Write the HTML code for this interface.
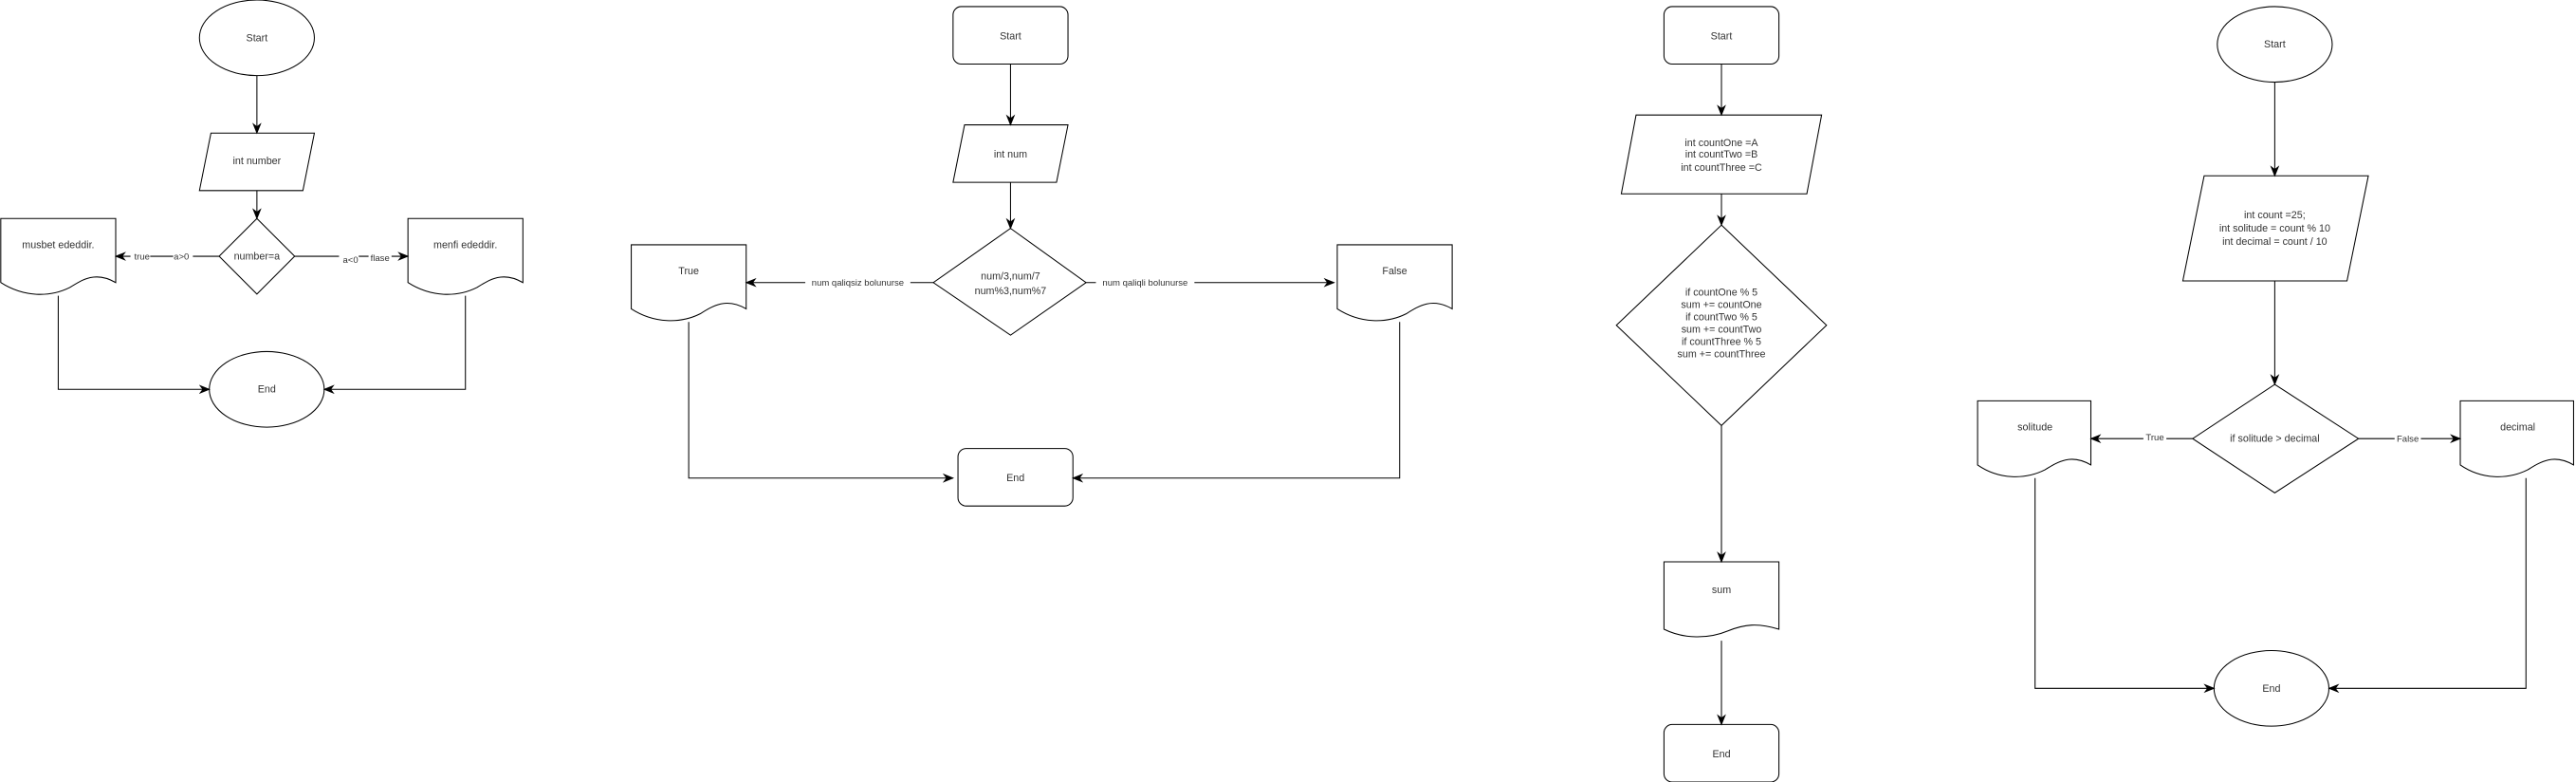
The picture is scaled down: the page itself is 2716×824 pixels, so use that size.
<!DOCTYPE html>
<html><head><meta charset="utf-8"><style>html,body{margin:0;padding:0;background:#fff}svg{display:block}</style></head>
<body>
<svg width="2716" height="824" viewBox="0 0 1568 476" xmlns="http://www.w3.org/2000/svg" font-family="Liberation Sans, Arial, sans-serif" font-size="6.2" fill="none" stroke="#000" stroke-width="0.6">
<defs>
<marker id="a" viewBox="0 0 10 10" refX="9" refY="5" markerWidth="7" markerHeight="7" orient="auto" markerUnits="userSpaceOnUse"><path d="M0,1 L10,5 L0,9 L3,5 Z" fill="#000" stroke="none"/></marker>
</defs>
<!-- D1 -->
<ellipse cx="156" cy="23" rx="35" ry="23" fill="#fff"/>
<path d="M128 81 H191 L184 116 H121 Z" fill="#fff"/>
<path d="M156 133 L179 156 L156 179 L133 156 Z" fill="#fff"/>
<path d="M0 133 H70 V172 C58 165 50 170 42 175 C30 181 14 181 0 172 Z" fill="#fff"/>
<path d="M248 133 H318 V172 C306 165 298 170 290 175 C278 181 262 181 248 172 Z" fill="#fff"/>
<ellipse cx="162" cy="237" rx="35" ry="23" fill="#fff"/>
<line x1="156" y1="46" x2="156" y2="81" marker-end="url(#a)"/>
<line x1="156" y1="116" x2="156" y2="133" marker-end="url(#a)"/>
<line x1="133" y1="156" x2="70" y2="156" marker-end="url(#a)"/>
<line x1="179" y1="156" x2="248" y2="156" marker-end="url(#a)"/>
<polyline points="35,180 35,237 127,237" marker-end="url(#a)"/>
<polyline points="283,180 283,237 197,237" marker-end="url(#a)"/>
<!-- D2 -->
<rect x="580" y="4" width="70" height="35" rx="5" fill="#fff"/>
<path d="M587 76 H650 L643 111 H580 Z" fill="#fff"/>
<path d="M615 139 L661 172 L615 204 L568 172 Z" fill="#fff"/>
<path d="M384 149 H454 V188 C442 181 434 186 426 191 C414 197 398 197 384 188 Z" fill="#fff"/>
<path d="M814 149 H884 V188 C872 181 864 186 856 191 C844 197 828 197 814 188 Z" fill="#fff"/>
<rect x="583" y="273" width="70" height="35" rx="5" fill="#fff"/>
<line x1="615" y1="39" x2="615" y2="76" marker-end="url(#a)"/>
<line x1="615" y1="111" x2="615" y2="139" marker-end="url(#a)"/>
<line x1="568" y1="172" x2="454" y2="172" marker-end="url(#a)"/>
<line x1="661" y1="172" x2="812" y2="172" marker-end="url(#a)"/>
<polyline points="419,196 419,291 580,291" marker-end="url(#a)"/>
<polyline points="852,196 852,291 653,291" marker-end="url(#a)"/>
<!-- D3 -->
<rect x="1013" y="4" width="70" height="35" rx="5" fill="#fff"/>
<path d="M996 70 H1109 L1100 118 H987 Z" fill="#fff"/>
<path d="M1048 137 L1112 198 L1048 259 L984 198 Z" fill="#fff"/>
<path d="M1013 342 H1083 V383 C1070 379 1062 380 1052 384 C1040 389 1025 389 1013 383 Z" fill="#fff"/>
<rect x="1013" y="441" width="70" height="35" rx="5" fill="#fff"/>
<line x1="1048" y1="39" x2="1048" y2="70" marker-end="url(#a)"/>
<line x1="1048" y1="118" x2="1048" y2="137" marker-end="url(#a)"/>
<line x1="1048" y1="259" x2="1048" y2="342" marker-end="url(#a)"/>
<line x1="1048" y1="390" x2="1048" y2="441" marker-end="url(#a)"/>
<!-- D4 -->
<ellipse cx="1385" cy="27" rx="35" ry="23" fill="#fff"/>
<path d="M1342 107 H1442 L1429 171 H1329 Z" fill="#fff"/>
<path d="M1385 234 L1436 267 L1385 300 L1335 267 Z" fill="#fff"/>
<path d="M1204 244 H1273 V283 C1261 276 1253 281 1245 286 C1233 292 1217 292 1204 283 Z" fill="#fff"/>
<path d="M1498 244 H1567 V283 C1555 276 1547 281 1539 286 C1527 292 1511 292 1498 283 Z" fill="#fff"/>
<ellipse cx="1383" cy="419" rx="35" ry="23" fill="#fff"/>
<line x1="1385" y1="50" x2="1385" y2="107" marker-end="url(#a)"/>
<line x1="1385" y1="171" x2="1385" y2="234" marker-end="url(#a)"/>
<line x1="1335" y1="267" x2="1273" y2="267" marker-end="url(#a)"/>
<line x1="1436" y1="267" x2="1498" y2="267" marker-end="url(#a)"/>
<polyline points="1239,291 1239,419 1348,419" marker-end="url(#a)"/>
<polyline points="1538,291 1538,419 1418,419" marker-end="url(#a)"/>
<!-- labels -->
<g fill="#fff" stroke="none">
<rect x="105" y="152" width="12" height="7"/><rect x="79" y="152" width="12" height="7"/>
<rect x="206" y="153" width="12" height="7"/><rect x="224" y="153" width="14" height="7"/>
<rect x="490" y="168" width="64" height="8"/><rect x="667" y="168" width="60" height="8"/>
<rect x="1305" y="262" width="14" height="8"/><rect x="1458" y="263" width="16" height="8"/>
</g>
<g fill="#333" stroke="none" text-anchor="middle">
<text x="156" y="25">Start</text><text x="156" y="100">int number</text><text x="156" y="158">number=a</text>
<text x="35" y="151">musbet ededdir.</text><text x="283" y="151">menfi ededdir.</text>
<text x="162" y="239">End</text>
<text x="86" y="158" font-size="5.5">true</text><text x="110" y="158" font-size="5.5">a&gt;0</text>
<text x="213" y="160" font-size="5.5">a&lt;0</text><text x="231" y="159" font-size="5.5">flase</text>
<text x="615" y="24">Start</text><text x="615" y="96">int num</text>
<text x="615" y="170">num/3,num/7</text><text x="615" y="179">num%3,num%7</text>
<text x="419" y="167">True</text><text x="849" y="167">False</text><text x="618" y="293">End</text>
<text x="522" y="174" font-size="5.5">num qaliqsiz bolunurse</text><text x="697" y="174" font-size="5.5">num qaliqli bolunurse</text>
<text x="1048" y="24">Start</text>
<text x="1048" y="89">int countOne =A</text><text x="1048" y="96">int countTwo =B</text><text x="1048" y="104">int countThree =C</text>
<text x="1048" y="180">if countOne % 5</text><text x="1048" y="187.5">sum += countOne</text><text x="1048" y="195">if countTwo % 5</text>
<text x="1048" y="202.5">sum += countTwo</text><text x="1048" y="210">if countThree % 5</text><text x="1048" y="217.5">sum += countThree</text>
<text x="1048" y="361">sum</text><text x="1048" y="461">End</text>
<text x="1385" y="29">Start</text>
<text x="1385" y="133">int count  =25;</text><text x="1385" y="141">int solitude = count % 10</text><text x="1385" y="149">int  decimal = count / 10</text>
<text x="1385" y="269">if solitude &gt; decimal</text>
<text x="1239" y="262">solitude</text><text x="1533" y="262">decimal</text><text x="1383" y="421">End</text>
<text x="1312" y="268" font-size="5.5">True</text><text x="1466" y="269" font-size="5.5">False</text>
</g>
</svg>
</body></html>
